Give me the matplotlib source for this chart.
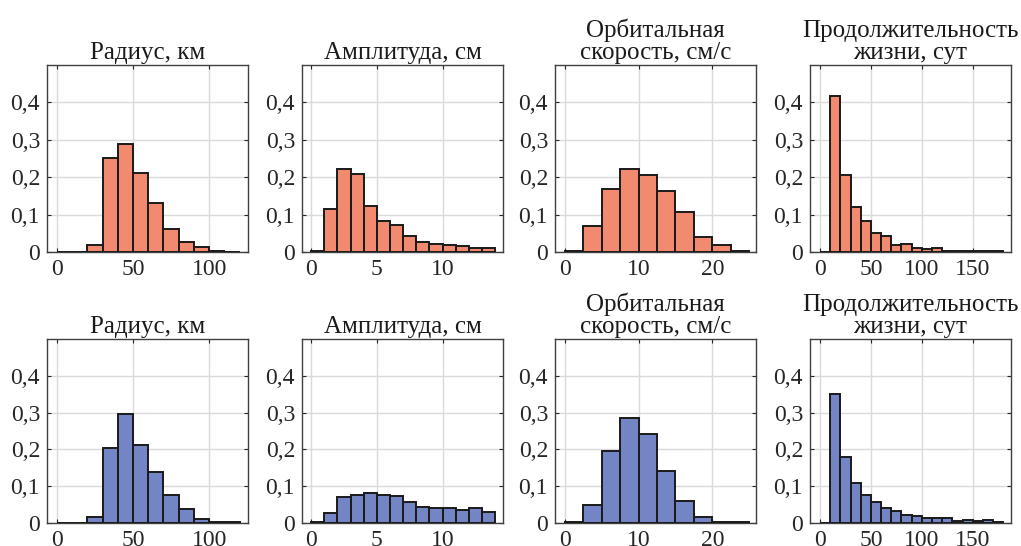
import numpy as np
import matplotlib
matplotlib.use("Agg")
import matplotlib.pyplot as plt
from matplotlib.ticker import FuncFormatter

plt.rcParams['font.family'] = ['Liberation Serif', 'DejaVu Serif']

titles = ["Радиус, км", "Амплитуда, см", "Орбитальная\nскорость, см/с", "Продолжительность\nжизни, сут"]

radius_edges = np.arange(0, 121, 10)
amp_edges = np.arange(0, 15, 1)
speed_edges = np.arange(0, 25.1, 2.5)
life_edges = np.arange(0, 181, 10)

radius_top = [0.001, 0.001, 0.020, 0.252, 0.290, 0.210, 0.130, 0.062, 0.027, 0.014, 0.002, 0.001]
amp_top = [0.002, 0.114, 0.221, 0.209, 0.124, 0.082, 0.071, 0.042, 0.026, 0.021, 0.018, 0.016, 0.011, 0.011]
speed_top = [0.003, 0.069, 0.169, 0.222, 0.207, 0.164, 0.107, 0.041, 0.020, 0.002]
life_top = [0.001, 0.417, 0.207, 0.119, 0.084, 0.050, 0.042, 0.019, 0.022, 0.010, 0.008, 0.010,
            0.004, 0.003, 0.002, 0.002, 0.002, 0.002]

radius_bot = [0.001, 0.001, 0.017, 0.204, 0.297, 0.211, 0.138, 0.077, 0.039, 0.012, 0.003, 0.002]
amp_bot = [0.002, 0.027, 0.072, 0.077, 0.081, 0.075, 0.073, 0.058, 0.044, 0.041, 0.041, 0.035, 0.041, 0.031]
speed_bot = [0.003, 0.048, 0.196, 0.284, 0.242, 0.141, 0.059, 0.017, 0.003, 0.002]
life_bot = [0.001, 0.350, 0.180, 0.110, 0.075, 0.058, 0.042, 0.032, 0.021, 0.020, 0.014, 0.014,
            0.014, 0.006, 0.009, 0.005, 0.007, 0.004]

edges = [radius_edges, amp_edges, speed_edges, life_edges]
top_vals = [radius_top, amp_top, speed_top, life_top]
bot_vals = [radius_bot, amp_bot, speed_bot, life_bot]
xlims = [(-6.5, 125.5), (-0.7, 14.6), (-1.3, 25.9), (-9.8, 187.6)]
xticks = [[0, 50, 100], [0, 5, 10], [0, 10, 20], [0, 50, 100, 150]]

red = '#F28A70'
blue = '#7385C4'

W, H = 1021, 546
fig = plt.figure(figsize=(W / 100, H / 100), dpi=100)

lefts = [47, 302, 555, 810]
width = 201
rows = [(65, 252, top_vals, red), (339, 523, bot_vals, blue)]

fmt = FuncFormatter(lambda v, p: ('%g' % round(v, 2)).replace('.', ','))

for (ytop, ybot, vals, col) in rows:
    for i in range(4):
        ax = fig.add_axes([lefts[i] / W, 1 - ybot / H, width / W, (ybot - ytop) / H])
        e = edges[i]
        ax.bar(e[:-1], vals[i], width=np.diff(e), align='edge', color=col,
               edgecolor='#1a1a1a', linewidth=1.4, zorder=3)
        ax.set_xlim(*xlims[i])
        ax.set_ylim(0, 0.5)
        ax.set_yticks([0, 0.1, 0.2, 0.3, 0.4])
        ax.set_xticks(xticks[i])
        ax.yaxis.set_major_formatter(fmt)
        ax.grid(True, color='#dadada', linewidth=1.0, zorder=0)
        ax.tick_params(direction='in', length=3, labelsize=17, colors='#262626',
                       top=True, right=True, pad=5)
        for s in ax.spines.values():
            s.set_color('#404040')
            s.set_linewidth(1.0)
        ax.set_title(titles[i], fontsize=18, pad=4, color='#1a1a1a', linespacing=1.0)

fig.savefig('out.png', dpi=100)
